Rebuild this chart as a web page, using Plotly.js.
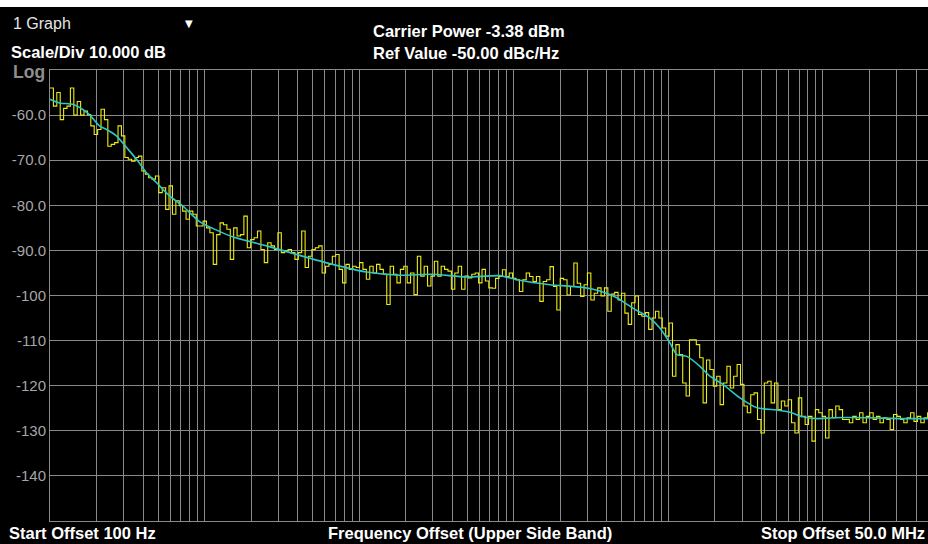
<!DOCTYPE html>
<html>
<head>
<meta charset="utf-8">
<script src="https://cdn.plot.ly/plotly-3.0.1.min.js"></script>
<style>
  html, body { margin: 0; padding: 0; background: #000; overflow: hidden; width: 928px; height: 544px; }
  #topband { position: absolute; left: 0; top: 0; width: 928px; height: 7px; background: #fff; z-index: 5; }
  #graphbox { position: absolute; left: 8px; top: 7px; width: 187px; height: 34px; background: #333333; border-radius: 0 0 6px 0; z-index: 1; }
  #chart { position: absolute; left: 0; top: 0; z-index: 2; }
</style>
</head>
<body>
<div id="graphbox"></div>
<div id="chart"></div>
<div id="topband"></div>
<script>
// ---------------- DATA ----------------
// Sweep definition (instrument point grid, log spaced)
const startHz = 100;
const stopHz = 50e6;

// Raw phase-noise trace (yellow), dBc/Hz, one value per sweep point
const rawTrace = [
  -54, -58, -55, -61, -58.5, -58, -54, -60, -57, -60,
  -59.1, -59.9, -62.4, -64.3, -63.2, -58.7, -61, -66.9, -66.5, -66.1,
  -62.4, -64.6, -69.4, -69.8, -70.2, -69.4, -69.1, -72.4, -73.1, -73.9,
  -74.2, -73.5, -77.2, -76.1, -80.9, -75.7, -82, -79, -80.1, -81.3,
  -83.1, -81.3, -82, -84.6, -84.6, -83.5, -85, -86.1, -93.1, -86.5,
  -83.9, -84.3, -85.3, -92, -85, -86.8, -86.5, -82.4, -89.4, -87.6,
  -87.2, -85.7, -89.8, -92.7, -88.3, -89, -89.8, -86.1, -90.5, -90.1,
  -89.8, -90.5, -92, -90.5, -85.7, -93.8, -91.3, -89.8, -89.4, -89,
  -95, -93.5, -93.1, -91.3, -90.9, -94.2, -97.2, -93.1, -94.2, -93.5,
  -93.8, -92.7, -94.2, -96.4, -93.5, -95, -93.1, -94.2, -95.3, -102,
  -93.5, -95.3, -97.2, -94.2, -93.5, -97.2, -95, -99.8, -91.3, -95.7,
  -93.5, -97.9, -95.7, -92.4, -95.7, -93.5, -94.2, -94.6, -98.6, -95,
  -93.5, -98.6, -95.7, -96.1, -95.3, -95, -97.2, -94.2, -96.8, -98.3,
  -98.4, -96.2, -95.8, -94.3, -95.8, -95, -96.2, -96.5, -99.1, -96.5,
  -95, -95.8, -96.9, -95.8, -101.3, -96.9, -96.5, -93.6, -98, -103.2,
  -96.2, -96.5, -99.9, -98, -92.8, -97.3, -100.2, -97.6, -95, -101,
  -99.5, -98.3, -100.1, -98.3, -103.5, -99.7, -99.3, -101, -99.5, -103.9,
  -106.4, -101.6, -100.1, -104.2, -104.6, -103.8, -107.5, -105, -103.5, -105,
  -107.2, -109, -106.1, -117.9, -110.9, -113.1, -119.4, -122.3, -109.8, -109.8,
  -110.9, -113.8, -123.8, -114.3, -116.4, -120.1, -117.9, -124.2, -119.4, -115.7,
  -120.5, -117.9, -115.3, -119.7, -124.5, -126, -122, -121.6, -127.5, -130.5,
  -119.4, -119, -123.8, -119.4, -125.3, -123.4, -124.5, -123.1, -128.2, -130.5,
  -122.7, -126.8, -128.6, -126.8, -132.3, -125.3, -126, -126.8, -131.6, -125.3,
  -127.1, -124.5, -125.3, -127.5, -127.5, -128.2, -126.8, -127.5, -126, -128.2,
  -126.8, -126, -127.5, -126.8, -128.2, -127.1, -127.5, -129.7, -126.4, -126.8,
  -127.5, -128.2, -127.1, -126, -127.9, -126.8, -128.2, -127.1, -126, -127.5
];

// Smoothed trace (cyan)
const smoothFreq = [
  100, 115, 140, 162, 180, 209, 232, 269, 313, 363, 421, 489, 593, 720, 928,
  1518, 2518, 4120, 6735, 11190, 18290, 29900, 49640, 81100, 104500, 171000,
  280000, 360500, 464500, 589000, 759000, 881000, 1023000, 1135000, 1318000,
  1600000, 1857000, 2254000, 2904000, 3740000, 5040000, 6110000, 7420000,
  9140000, 11600000, 19270000, 31500000, 50000000
];
const smoothVal = [
  -56.5, -57.3, -57.6, -58.7, -59.9, -62.4, -63.2, -64.6, -67.2, -69.8, -72.8, -75.0, -77.9, -80.1, -83.6,
  -87.0, -89.0, -91.1, -93.1, -94.8, -95.5, -95.3, -95.9, -95.6, -96.5, -97.6,
  -98.2, -99.0, -100.5, -102.8, -105.0, -107.2, -110.5, -113.1, -113.5,
  -115.7, -117.9, -119.7, -122.7, -124.9, -125.4, -125.9, -126.9,
  -127.3, -127.1, -127.1, -127.3, -127.3
];

// Y axis tick labels
const yTickVals = [-60, -70, -80, -90, -100, -110, -120, -130, -140];
const yTickText = ["-60.0", "-70.0", "-80.0", "-90.0", "-100", "-110", "-120", "-130", "-140"];

// ---------------- LAYOUT ----------------
const FIG_W = 932, FIG_H = 544;
const M = { l: 50, r: 1, t: 70, b: 23 };
const PW = FIG_W - M.l - M.r, PH = FIG_H - M.t - M.b;
const px = x => (x - M.l) / PW;
const py = y => (M.t + PH - y) / PH;

const N = rawTrace.length;
const ratio = stopHz / startHz;
const rawFreq = rawTrace.map((_, i) => startHz * Math.pow(ratio, i / (N - 1)));

const FONT = "Liberation Sans, Arial, sans-serif";
const bold = (t, x, y, anchor, size, color) => ({
  text: "<b>" + t + "</b>", xref: "paper", yref: "paper", x: px(x), y: py(y),
  xanchor: anchor, yanchor: "middle", showarrow: false, borderpad: 0,
  font: { family: FONT, size: size, color: color }
});

const traces = [
  {
    x: rawFreq, y: rawTrace, type: "scatter", mode: "lines",
    line: { color: "#ecec12", width: 1.1, shape: "hv" }, hoverinfo: "skip"
  },
  {
    x: smoothFreq, y: smoothVal, type: "scatter", mode: "lines",
    line: { color: "#2ec8c8", width: 1.6, shape: "spline", smoothing: 0.6 }, hoverinfo: "skip"
  }
];

const layout = {
  width: FIG_W, height: FIG_H,
  margin: M,
  paper_bgcolor: "#000", plot_bgcolor: "#000",
  showlegend: false,
  xaxis: {
    type: "log", range: [Math.log10(startHz), Math.log10(stopHz)],
    dtick: "D1", showticklabels: false, ticks: "",
    showgrid: true, gridcolor: "#8a8a8a", gridwidth: 1,
    showline: true, linecolor: "#8a8a8a", linewidth: 1, mirror: true, zeroline: false
  },
  yaxis: {
    range: [-150, -50], tickmode: "array", tickvals: yTickVals, ticktext: yTickText,
    showgrid: true, gridcolor: "#8a8a8a", gridwidth: 1, ticks: "",
    tickfont: { family: FONT, size: 15, color: "#a6a6a6" },
    showline: true, linecolor: "#8a8a8a", linewidth: 1, mirror: true, zeroline: false
  },
  annotations: [
    bold("Carrier Power -3.38 dBm", 469, 31.5, "center", 16.5, "#ffffff"),
    bold("Ref Value -50.00 dBc/Hz", 466, 53.5, "center", 16.5, "#ffffff"),
    bold("Scale/Div 10.000 dB", 10, 52.5, "left", 16.5, "#ffffff"),
    bold("Log", 12, 72, "left", 17.5, "#8e8e8e"),
    { text: "1 Graph", xref: "paper", yref: "paper", x: px(12), y: py(24), xanchor: "left", yanchor: "middle",
      showarrow: false, borderpad: 0, font: { family: FONT, size: 16, color: "#e6e6e6" } },
    { text: "▼", xref: "paper", yref: "paper", x: px(188.5), y: py(24), xanchor: "center", yanchor: "middle",
      showarrow: false, borderpad: 0, font: { family: "DejaVu Sans", size: 10, color: "#ffffff" } },
    bold("Start Offset 100 Hz", 8, 533, "left", 16.5, "#ffffff"),
    bold("Frequency Offset (Upper Side Band)", 469.5, 533, "center", 16.5, "#ffffff"),
    bold("Stop Offset 50.0 MHz", 926, 533, "right", 16.5, "#ffffff")
  ]
};

Plotly.newPlot("chart", traces, layout, { staticPlot: true, displayModeBar: false });
</script>
</body>
</html>
